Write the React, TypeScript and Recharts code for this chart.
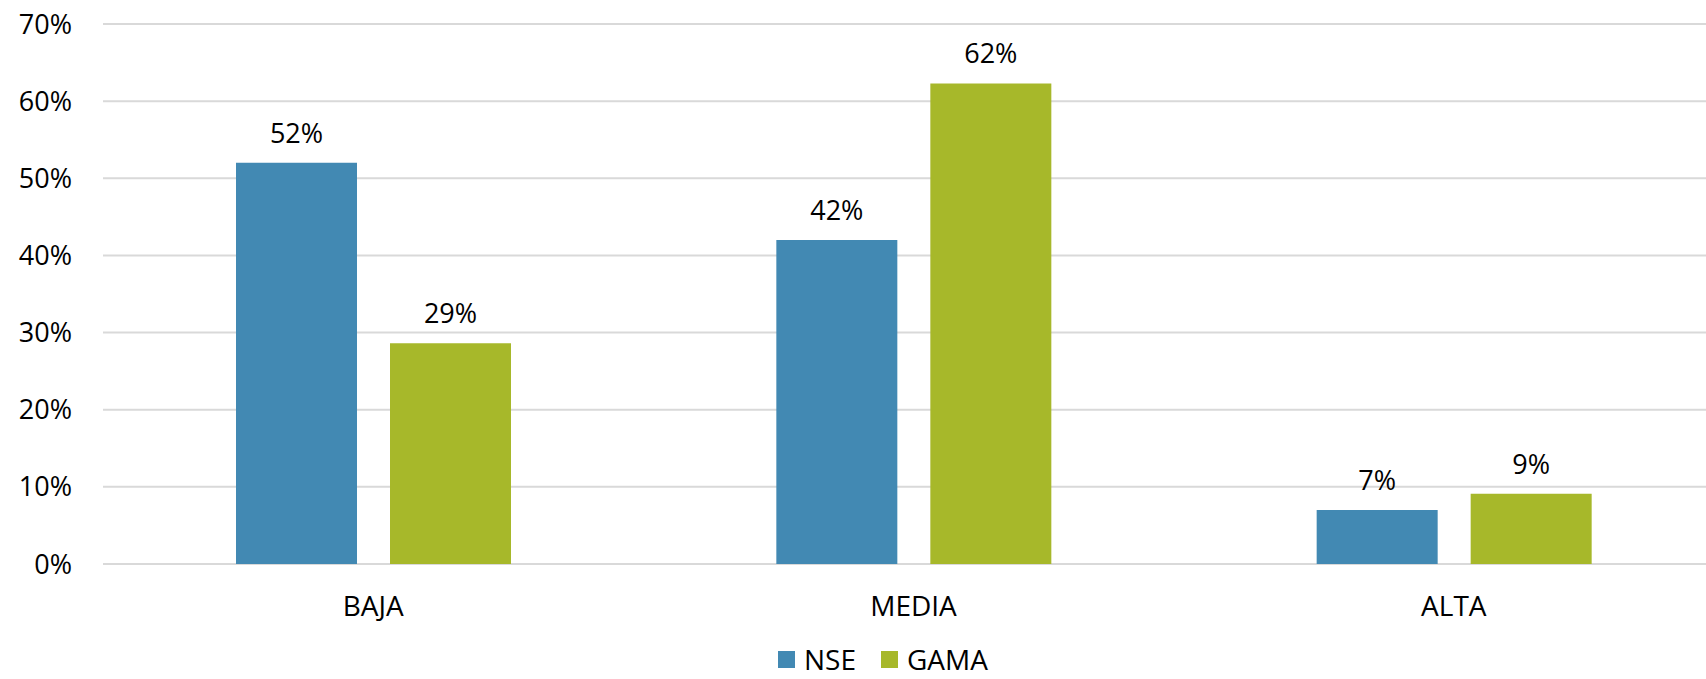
import React from "react"
import { BarChart, Bar, XAxis, YAxis, CartesianGrid, Legend, LabelList } from "recharts"

const categories = ["BAJA", "MEDIA", "ALTA"]
const nseValues = [52, 42, 7]
const gamaValues = [28.6, 62.3, 9.1]
const yTicks = [0, 10, 20, 30, 40, 50, 60, 70]

const data = categories.map((name, i) => ({ name, nse: nseValues[i], gama: gamaValues[i] }))

const BLUE = "#4289B3"
const GREEN = "#A7B82A"
const FONT = "'Open Sans', sans-serif"

function LegendBox() {
  const item = (color: string, label: string, last?: boolean) => (
    <div style={{ display: "flex", alignItems: "center", marginRight: last ? 0 : 25 }}>
      <div style={{ width: 17, height: 17, background: color, marginRight: 9 }} />
      <span style={{ fontSize: 28, color: "#000", lineHeight: "21px" }}>{label}</span>
    </div>
  )
  return (
    <div style={{ display: "flex", alignItems: "center", height: 36, paddingLeft: 778, fontFamily: FONT }}>
      {item(BLUE, "NSE")}
      {item(GREEN, "GAMA", true)}
    </div>
  )
}

export default function App() {
  return (
    <div style={{ position: "fixed", left: 0, top: 0, width: 1706, height: 679, overflow: "hidden", background: "#fff" }}>
      <BarChart
        width={1724}
        height={679}
        data={data}
        margin={{ top: 24, right: 0, left: 0, bottom: 0 }}
        barSize={121}
        barGap={33}
        style={{ fontFamily: FONT }}
      >
        <CartesianGrid vertical={false} stroke="#D9D9D9" strokeWidth={2} />
        <XAxis
          dataKey="name"
          axisLine={false}
          tickLine={false}
          tickMargin={26}
          height={79}
          tick={{ fontSize: 28, fill: "#000" }}
        />
        <YAxis
          domain={[0, 70]}
          ticks={yTicks}
          width={103}
          axisLine={false}
          tickLine={false}
          tickMargin={25}
          tick={{ fontSize: 27, fill: "#000" }}
          tickFormatter={(v) => `${v}%`}
        />
        <Legend verticalAlign="bottom" align="left" content={() => <LegendBox />} wrapperStyle={{ left: 0, bottom: 2 }} />
        <Bar dataKey="nse" name="NSE" fill={BLUE} isAnimationActive={false}>
          <LabelList dataKey="nse" position="top" offset={20} formatter={(v: any) => `${Number(v).toFixed(0)}%`} style={{ fontSize: 27, fill: "#000" }} />
        </Bar>
        <Bar dataKey="gama" name="GAMA" fill={GREEN} isAnimationActive={false}>
          <LabelList dataKey="gama" position="top" offset={20} formatter={(v: any) => `${Number(v).toFixed(0)}%`} style={{ fontSize: 27, fill: "#000" }} />
        </Bar>
      </BarChart>
    </div>
  )
}
